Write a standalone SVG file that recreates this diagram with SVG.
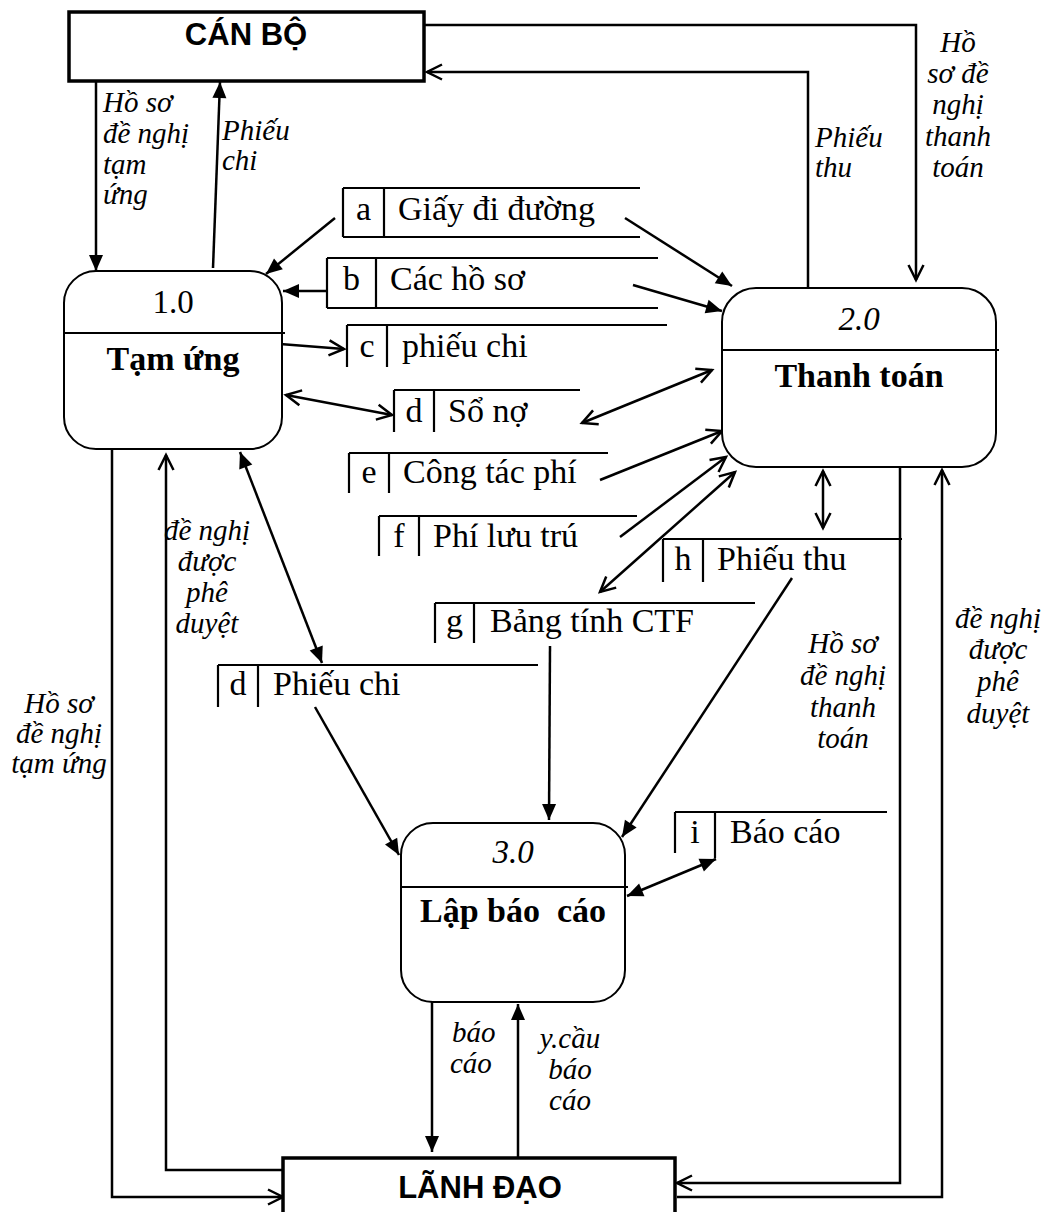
<svg xmlns="http://www.w3.org/2000/svg" width="1053" height="1212" viewBox="0 0 1053 1212">
  <defs>
    <style>
      .ent { fill: #fff; stroke: #000; stroke-width: 3.5; }
      .proc { fill: #fff; stroke: #000; stroke-width: 2; }
      .sep { stroke: #000; stroke-width: 2; fill: none; }
      .store { stroke: #000; stroke-width: 2.2; fill: none; }
      .flow { fill: none; stroke: #000; stroke-width: 2.5; }
      .solid { marker-end: url(#headSolid); }
      .solid2 { marker-start: url(#headSolid); marker-end: url(#headSolid); }
      .open { marker-end: url(#headOpen); }
      .open2 { marker-start: url(#headOpen); marker-end: url(#headOpen); }
      .t-ent { font-family: "Liberation Sans", Arial, sans-serif; font-weight: bold; font-size: 31px; text-anchor: middle; }
      .t-num { font-family: "Liberation Serif", "Times New Roman", serif; font-size: 33px; text-anchor: middle; }
      .t-name { font-family: "Liberation Serif", "Times New Roman", serif; font-size: 34px; font-weight: bold; text-anchor: middle; }
      .t-store { font-family: "Liberation Serif", "Times New Roman", serif; font-size: 34px; }
      .t-key { font-family: "Liberation Serif", "Times New Roman", serif; font-size: 34px; text-anchor: middle; }
      .lbl { font-family: "Liberation Serif", "Times New Roman", serif; font-size: 29px; font-style: italic; }
      .mid { text-anchor: middle; }
    </style>
    <marker id="headSolid" markerUnits="userSpaceOnUse" markerWidth="17" markerHeight="14" refX="16" refY="7" orient="auto-start-reverse" overflow="visible">
      <path d="M0,0 L16,7 L0,14 z" fill="#000"/>
    </marker>
    <marker id="headOpen" markerUnits="userSpaceOnUse" markerWidth="18" markerHeight="18" refX="16" refY="9" orient="auto-start-reverse" overflow="visible">
      <path d="M1,1.5 L16,9 L1,16.5" fill="none" stroke="#000" stroke-width="2.5"/>
    </marker>
  </defs>

  <rect width="1053" height="1212" fill="#fff"/>

  <!-- flows between entities, processes and stores -->
  <g id="connectors">
    <path class="flow solid" d="M96,81 L96,271"/>
    <path class="flow solid" d="M213,268 L220,82"/>
    <path class="flow open" d="M808,288 V72 H427"/>
    <path class="flow open" d="M424,25 H916 V280"/>
    <path class="flow solid" d="M335,218 L266,274"/>
    <path class="flow solid" d="M625,218 L732,286"/>
    <path class="flow solid" d="M327,291 L283,291"/>
    <path class="flow solid" d="M633,285 L722,311"/>
    <path class="flow open" d="M280,344 L344,349"/>
    <path class="flow open2" d="M286,395 L392,415"/>
    <path class="flow open2" d="M582,423 L712,370"/>
    <path class="flow open" d="M600,480 L722,431"/>
    <path class="flow open" d="M620,537 L726,457"/>
    <path class="flow open2" d="M600,592 L735,472"/>
    <path class="flow open2" d="M823,471 L823,528"/>
    <path class="flow solid2" d="M240,452 L322,663"/>
    <path class="flow solid" d="M315,707 L399,855"/>
    <path class="flow solid" d="M550,646 L549,820"/>
    <path class="flow solid" d="M792,578 L622,837"/>
    <path class="flow solid2" d="M627,896 L716,859"/>
    <path class="flow solid" d="M432,1002 L432,1152"/>
    <path class="flow solid" d="M518,1158 L518,1004"/>
    <path class="flow open" d="M112,449 V1197 H283"/>
    <path class="flow open" d="M283,1170 H166 V455"/>
    <path class="flow open" d="M900,467 V1183 H677"/>
    <path class="flow open" d="M677,1197 H942 V470"/>
  </g>

  <!-- flow labels -->
  <g id="flow-labels" class="lbl">
    <text x="103" y="112">Hồ sơ</text>
    <text x="103" y="143">đề nghị</text>
    <text x="103" y="174">tạm</text>
    <text x="103" y="204">ứng</text>

    <text x="222" y="140">Phiếu</text>
    <text x="222" y="170">chi</text>

    <text x="815" y="147">Phiếu</text>
    <text x="815" y="177">thu</text>

    <text class="mid" x="958" y="52">Hồ</text>
    <text class="mid" x="958" y="83">sơ đề</text>
    <text class="mid" x="958" y="114">nghị</text>
    <text class="mid" x="958" y="146">thanh</text>
    <text class="mid" x="958" y="177">toán</text>

    <text class="mid" x="207" y="540">đề nghị</text>
    <text class="mid" x="207" y="571">được</text>
    <text class="mid" x="207" y="602">phê</text>
    <text class="mid" x="207" y="633">duyệt</text>

    <text class="mid" x="59" y="713">Hồ sơ</text>
    <text class="mid" x="59" y="743">đề nghị</text>
    <text class="mid" x="59" y="773">tạm ứng</text>

    <text class="mid" x="843" y="653">Hồ sơ</text>
    <text class="mid" x="843" y="685">đề nghị</text>
    <text class="mid" x="843" y="717">thanh</text>
    <text class="mid" x="843" y="748">toán</text>

    <text class="mid" x="998" y="628">đề nghị</text>
    <text class="mid" x="998" y="659">được</text>
    <text class="mid" x="998" y="691">phê</text>
    <text class="mid" x="998" y="723">duyệt</text>

    <text x="452" y="1042">báo</text>
    <text x="450" y="1073">cáo</text>

    <text class="mid" x="570" y="1048">y.cầu</text>
    <text class="mid" x="570" y="1079">báo</text>
    <text class="mid" x="570" y="1110">cáo</text>
  </g>

  <!-- external entities -->
  <g id="can-bo">
    <rect class="ent" x="69" y="12" width="355" height="69"/>
    <text class="t-ent" x="246" y="45">CÁN BỘ</text>
  </g>
  <g id="lanh-dao">
    <rect class="ent" x="283" y="1158" width="392" height="60"/>
    <text class="t-ent" x="480" y="1198" font-size="33">LÃNH ĐẠO</text>
  </g>

  <!-- processes -->
  <g id="p1-tam-ung">
    <rect class="proc" x="64" y="271" width="218" height="178" rx="32"/>
    <line class="sep" x1="64" y1="333" x2="285" y2="333"/>
    <text class="t-num" x="173" y="313">1.0</text>
    <text class="t-name" x="173" y="370">Tạm ứng</text>
  </g>
  <g id="p2-thanh-toan">
    <rect class="proc" x="722" y="288" width="274" height="179" rx="34"/>
    <line class="sep" x1="722" y1="350" x2="999" y2="350"/>
    <text class="t-num" x="859" y="330" font-style="italic">2.0</text>
    <text class="t-name" x="859" y="387">Thanh toán</text>
  </g>
  <g id="p3-lap-bao-cao">
    <rect class="proc" x="401" y="823" width="224" height="179" rx="32"/>
    <line class="sep" x1="401" y1="887" x2="628" y2="887"/>
    <text class="t-num" x="513" y="863" font-style="italic">3.0</text>
    <text class="t-name" x="513" y="922" xml:space="preserve">Lập báo  cáo</text>
  </g>

  <!-- data stores -->
  <g id="store-a">
    <path class="store" d="M343,188 H640 M343,237 H640 M343,188 V237 M384,188 V237"/>
    <text class="t-key" x="363.5" y="220">a</text>
    <text class="t-store" x="398" y="220">Giấy đi đường</text>
  </g>
  <g id="store-b">
    <path class="store" d="M327,258 H658 M327,308 H658 M327,258 V308 M376,258 V308"/>
    <text class="t-key" x="351.5" y="290">b</text>
    <text class="t-store" x="390" y="290">Các hồ sơ</text>
  </g>
  <g id="store-c">
    <path class="store" d="M347,325 H667 M347,325 V367 M387,325 V367"/>
    <text class="t-key" x="367" y="357">c</text>
    <text class="t-store" x="402" y="357">phiếu chi</text>
  </g>
  <g id="store-d-so-no">
    <path class="store" d="M394,390 H580 M394,390 V432 M434,390 V432"/>
    <text class="t-key" x="414" y="422">d</text>
    <text class="t-store" x="448" y="422">Sổ nợ</text>
  </g>
  <g id="store-e">
    <path class="store" d="M349,453 H608 M349,453 V493 M389,453 V493"/>
    <text class="t-key" x="369" y="483">e</text>
    <text class="t-store" x="403" y="483">Công tác phí</text>
  </g>
  <g id="store-f">
    <path class="store" d="M379,516 H637 M379,516 V556 M419,516 V556"/>
    <text class="t-key" x="399" y="547">f</text>
    <text class="t-store" x="433" y="547">Phí lưu trú</text>
  </g>
  <g id="store-h">
    <path class="store" d="M663,539 H902 M663,539 V582 M703,539 V582"/>
    <text class="t-key" x="683" y="570">h</text>
    <text class="t-store" x="717" y="570">Phiếu thu</text>
  </g>
  <g id="store-g">
    <path class="store" d="M435,603 H755 M435,603 V643 M474,603 V643"/>
    <text class="t-key" x="454.5" y="632">g</text>
    <text class="t-store" x="490" y="632">Bảng tính CTF</text>
  </g>
  <g id="store-d-phieu-chi">
    <path class="store" d="M218,665 H538 M218,665 V707 M258,665 V707"/>
    <text class="t-key" x="238" y="695">d</text>
    <text class="t-store" x="273" y="695">Phiếu chi</text>
  </g>
  <g id="store-i">
    <path class="store" d="M675,812 H887 M675,812 V853 M715,812 V858"/>
    <text class="t-key" x="695" y="843">i</text>
    <text class="t-store" x="730" y="843">Báo cáo</text>
  </g>
</svg>
